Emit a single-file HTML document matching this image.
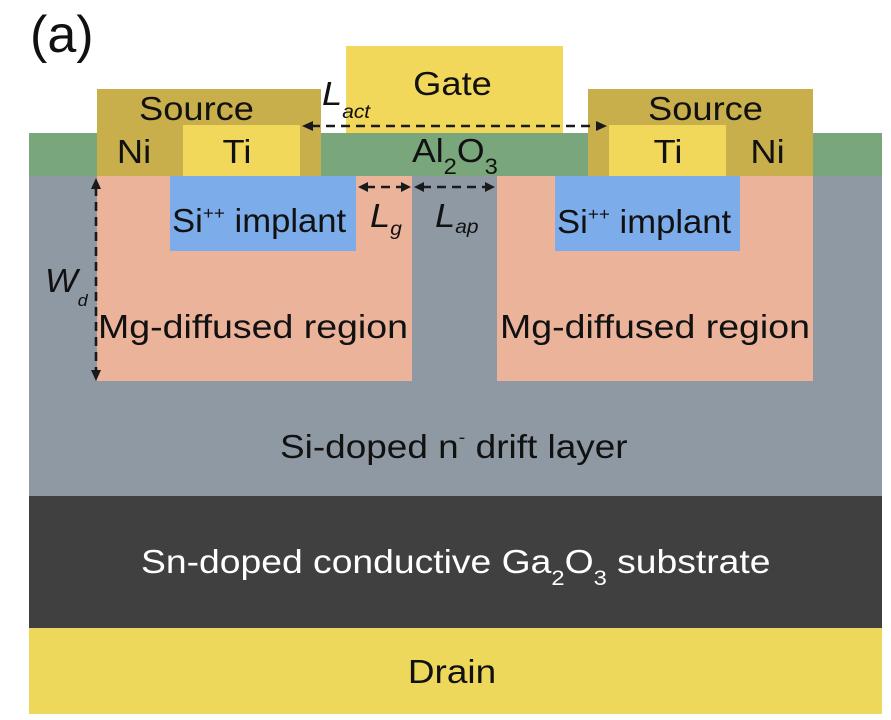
<!DOCTYPE html>
<html>
<head>
<meta charset="utf-8">
<style>
html,body{margin:0;padding:0;background:#fff;}
svg{display:block;}
text{font-family:"Liberation Sans",Arial,sans-serif;}
</style>
</head>
<body>
<svg width="891" height="720" viewBox="0 0 891 720" xmlns="http://www.w3.org/2000/svg">
  <rect x="0" y="0" width="891" height="720" fill="#ffffff"/>

  <!-- Layers -->
  <rect x="29" y="133" width="853" height="43" fill="#79a67b"/>
  <rect x="29" y="176" width="853" height="320" fill="#8e99a4"/>
  <rect x="29" y="496" width="853" height="132" fill="#404040"/>
  <rect x="29" y="628" width="853" height="86" fill="#eed85c"/>

  <!-- Mg regions -->
  <rect x="97" y="176" width="315" height="205" fill="#eab39a"/>
  <rect x="497" y="176" width="316" height="205" fill="#eab39a"/>

  <!-- Si++ implants -->
  <rect x="170" y="176" width="186" height="75" fill="#7dacea"/>
  <rect x="555" y="176" width="185" height="75" fill="#7dacea"/>

  <!-- Source left -->
  <rect x="97" y="89" width="224" height="87" fill="#c9ae4c"/>
  <rect x="183" y="125" width="117" height="51" fill="#f1d75a"/>
  <!-- Source right -->
  <rect x="588" y="89" width="225" height="87" fill="#c9ae4c"/>
  <rect x="609" y="125" width="117" height="51" fill="#f1d75a"/>

  <!-- Gate -->
  <rect x="346" y="46" width="217" height="87" fill="#f1d75a"/>

  <!-- Labels -->
  <text x="30" y="52" font-size="52" fill="#111">(a)</text>

  <g fill="#111" font-size="33">
    <text transform="translate(452.5,95) scale(1.1,1)" text-anchor="middle">Gate</text>
    <text transform="translate(196.5,120) scale(1.1,1)" text-anchor="middle">Source</text>
    <text transform="translate(705.5,120) scale(1.1,1)" text-anchor="middle">Source</text>
    <text transform="translate(134,163) scale(1.1,1)" text-anchor="middle">Ni</text>
    <text transform="translate(237,163) scale(1.1,1)" text-anchor="middle">Ti</text>
    <text transform="translate(668,163) scale(1.1,1)" text-anchor="middle">Ti</text>
    <text transform="translate(767.5,163) scale(1.1,1)" text-anchor="middle">Ni</text>
    <text transform="translate(412,162) scale(1.08,1)">Al<tspan font-size="22" dy="12">2</tspan><tspan dy="-12">O</tspan><tspan font-size="22" dy="12">3</tspan></text>

    <text transform="translate(172,232) scale(1.05,1)">Si<tspan font-size="18" dy="-13">++</tspan><tspan dy="13"> implant</tspan></text>
    <text transform="translate(557,233) scale(1.05,1)">Si<tspan font-size="18" dy="-13">++</tspan><tspan dy="13"> implant</tspan></text>

    <text transform="translate(253,338) scale(1.12,1)" text-anchor="middle" font-size="33.5">Mg-diffused region</text>
    <text transform="translate(655,338) scale(1.12,1)" text-anchor="middle" font-size="33.5">Mg-diffused region</text>

    <text transform="translate(280,458) scale(1.12,1)">Si-doped n<tspan font-size="18" dy="-15">-</tspan><tspan dy="15"> drift layer</tspan></text>

    <text transform="translate(452,683) scale(1.12,1)" text-anchor="middle">Drain</text>
  </g>

  <text transform="translate(141,573) scale(1.13,1)" fill="#ffffff" font-size="33">Sn-doped conductive Ga<tspan font-size="21" dy="12">2</tspan><tspan dy="-12">O</tspan><tspan font-size="21" dy="12">3</tspan><tspan dy="-12"> substrate</tspan></text>

  <!-- Italic dimension labels -->
  <g fill="#111" font-style="italic">
    <text transform="translate(322,105) scale(1.1,1)" font-size="33">L<tspan font-size="19" dy="13">act</tspan></text>
    <text transform="translate(370,227) scale(1.1,1)" font-size="33">L<tspan font-size="19" dy="8">g</tspan></text>
    <text transform="translate(435,227) scale(1.1,1)" font-size="33">L<tspan font-size="19" dy="6">ap</tspan></text>
    <text transform="translate(45,292) scale(1.05,1)" font-size="33">W<tspan font-size="17" dy="14">d</tspan></text>
  </g>

  <!-- Dashed arrows -->
  <g stroke="#1a1a1a" stroke-width="2.6" stroke-dasharray="9 6" fill="none">
    <line x1="311" y1="126" x2="598" y2="126"/>
    <line x1="366" y1="187" x2="403" y2="187"/>
    <line x1="422" y1="187" x2="487" y2="187"/>
    <line x1="96" y1="187" x2="96" y2="373"/>
  </g>
  <g fill="#1a1a1a">
    <!-- Lact -->
    <polygon points="302,126 313,121 313,131"/>
    <polygon points="607,126 596,121 596,131"/>
    <!-- Lg -->
    <polygon points="358,187 368,182 368,192"/>
    <polygon points="411,187 401,182 401,192"/>
    <!-- Lap -->
    <polygon points="414,187 424,182 424,192"/>
    <polygon points="495,187 485,182 485,192"/>
    <!-- Wd -->
    <polygon points="96,178 91,189 101,189"/>
    <polygon points="96,381 91,370 101,370"/>
  </g>
</svg>
</body>
</html>
